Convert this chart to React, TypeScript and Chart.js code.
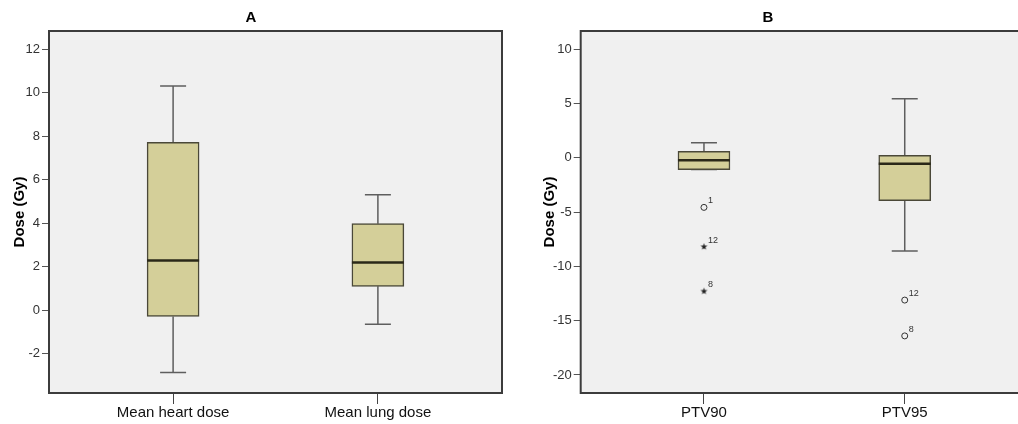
import React, { useEffect, useRef } from "react";
import { Chart, registerables } from "chart.js";

Chart.register(...registerables);

// ---------- Panel A data ----------
const panelATitle = "A";
const panelACategories = ["Mean heart dose", "Mean lung dose"];
const panelAMin = [-2.86, -0.64];
const panelAQ1 = [-0.28, 1.1];
const panelAMedian = [2.29, 2.2];
const panelAQ3 = [7.72, 3.98];
const panelAMax = [10.3, 5.31];
const panelAYTicks = [-2, 0, 2, 4, 6, 8, 10, 12];
const panelACircleOutliers: { x: number; y: number; label: string }[] = [];
const panelAStarOutliers: { x: number; y: number; label: string }[] = [];

// ---------- Panel B data ----------
const panelBTitle = "B";
const panelBCategories = ["PTV90", "PTV95"];
const panelBMin = [-1.08, -8.57];
const panelBQ1 = [-1.08, -3.95];
const panelBMedian = [-0.22, -0.53];
const panelBQ3 = [0.61, 0.24];
const panelBMax = [1.39, 5.45];
const panelBYTicks = [-20, -15, -10, -5, 0, 5, 10];
const panelBCircleOutliers = [
  { x: 0, y: -4.56, label: "1" },
  { x: 1, y: -13.1, label: "12" },
  { x: 1, y: -16.4, label: "8" },
];
const panelBStarOutliers = [
  { x: 0, y: -8.17, label: "12" },
  { x: 0, y: -12.27, label: "8" },
];

const FONT = "'Liberation Sans', Arial, Helvetica, sans-serif";

type Panel = {
  title: string;
  categories: string[];
  min: number[];
  q1: number[];
  median: number[];
  q3: number[];
  max: number[];
  yTicks: number[];
  yMin: number;
  yMax: number;
  xMin: number;
  xMax: number;
  circles: { x: number; y: number; label: string }[];
  stars: { x: number; y: number; label: string }[];
  yAxisWidth: number;
  yTitlePad: number;
  rightPad: number;
};

function makeStarImage(): HTMLCanvasElement {
  const c = document.createElement("canvas");
  c.width = 9;
  c.height = 9;
  const g = c.getContext("2d")!;
  g.fillStyle = "#222";
  g.beginPath();
  const cx = 4.5, cy = 4.7, ro = 3.6, ri = 1.5;
  for (let k = 0; k < 10; k++) {
    const r = k % 2 === 0 ? ro : ri;
    const a = -Math.PI / 2 + (k * Math.PI) / 5;
    const px = cx + r * Math.cos(a);
    const py = cy + r * Math.sin(a);
    if (k === 0) g.moveTo(px, py);
    else g.lineTo(px, py);
  }
  g.closePath();
  g.fill();
  return c;
}

const boxPlugin = {
  id: "boxplotExtras",
  beforeDraw(chart: any) {
    const { ctx, chartArea } = chart;
    ctx.save();
    ctx.fillStyle = "#f0f0f0";
    ctx.fillRect(chartArea.left, chartArea.top, chartArea.right - chartArea.left, chartArea.bottom - chartArea.top);
    ctx.restore();
  },
  beforeDatasetsDraw(chart: any) {
    const p: Panel = chart.options.plugins.boxplotExtras.panel;
    const { ctx } = chart;
    const ys = chart.scales.y;
    const meta = chart.getDatasetMeta(0);
    ctx.save();
    ctx.strokeStyle = "#5e5e5e";
    ctx.lineWidth = 1.5;
    meta.data.forEach((bar: any, i: number) => {
      const cx = bar.x;
      const half = bar.width / 4;
      const yMax = ys.getPixelForValue(p.max[i]);
      const yQ3 = ys.getPixelForValue(p.q3[i]);
      const yQ1 = ys.getPixelForValue(p.q1[i]);
      const yMin = ys.getPixelForValue(p.min[i]);
      ctx.beginPath();
      ctx.moveTo(cx, yQ3);
      ctx.lineTo(cx, yMax);
      ctx.moveTo(cx - half, yMax);
      ctx.lineTo(cx + half, yMax);
      ctx.moveTo(cx, yQ1);
      ctx.lineTo(cx, yMin);
      ctx.moveTo(cx - half, yMin);
      ctx.lineTo(cx + half, yMin);
      ctx.stroke();
    });
    ctx.restore();
  },
  afterDatasetsDraw(chart: any) {
    const p: Panel = chart.options.plugins.boxplotExtras.panel;
    const { ctx, chartArea } = chart;
    const ys = chart.scales.y;
    const xs = chart.scales.x;
    const meta = chart.getDatasetMeta(0);
    ctx.save();
    // medians
    ctx.strokeStyle = "#2a2818";
    ctx.lineWidth = 2.5;
    meta.data.forEach((bar: any, i: number) => {
      const y = ys.getPixelForValue(p.median[i]);
      ctx.beginPath();
      ctx.moveTo(bar.x - bar.width / 2, y);
      ctx.lineTo(bar.x + bar.width / 2, y);
      ctx.stroke();
    });
    // outlier labels
    ctx.fillStyle = "#333";
    ctx.font = `9px ${FONT}`;
    ctx.textAlign = "left";
    ctx.textBaseline = "alphabetic";
    [...p.circles, ...p.stars].forEach((o) => {
      const px = xs.getPixelForValue(o.x);
      const py = ys.getPixelForValue(o.y);
      ctx.fillText(o.label, px + 4, py - 4);
    });
    // frame
    ctx.strokeStyle = "#3c3c3c";
    ctx.lineWidth = 2;
    ctx.strokeRect(chartArea.left, chartArea.top, chartArea.right - chartArea.left, chartArea.bottom - chartArea.top);
    ctx.restore();
  },
};

function makeConfig(p: Panel): any {
  return {
    type: "bar",
    data: {
      datasets: [
        {
          type: "bar",
          data: p.categories.map((_, i) => ({ x: i, y: [p.q1[i], p.q3[i]] })),
          backgroundColor: "#d4cf99",
          borderColor: "#4a4838",
          borderWidth: 1.5,
          borderSkipped: false,
          barThickness: 52,
          order: 2,
        },
        {
          type: "scatter",
          data: p.circles.map((o) => ({ x: o.x, y: o.y })),
          pointStyle: "circle",
          radius: 3,
          borderColor: "#333",
          backgroundColor: "rgba(0,0,0,0)",
          borderWidth: 1,
          order: 1,
        },
        {
          type: "scatter",
          data: p.stars.map((o) => ({ x: o.x, y: o.y })),
          pointStyle: makeStarImage(),
          radius: 4,
          order: 1,
        },
      ],
    },
    options: {
      animation: false,
      responsive: false,
      devicePixelRatio: 1,
      layout: { padding: { left: 0, right: p.rightPad, top: 0, bottom: 0 } },
      plugins: {
        legend: { display: false },
        tooltip: { enabled: false },
        title: {
          display: true,
          text: p.title,
          color: "#000",
          font: { family: FONT, size: 15, weight: "bold" },
          padding: { top: 9, bottom: 4 },
        },
        boxplotExtras: { panel: p },
      },
      scales: {
        x: {
          type: "linear",
          min: p.xMin,
          max: p.xMax,
          offset: false,
          afterBuildTicks: (scale: any) => {
            scale.ticks = p.categories.map((_, i) => ({ value: i }));
          },
          afterFit: (scale: any) => {
            scale.height = 31;
          },
          grid: { drawOnChartArea: false, drawTicks: true, tickLength: 11, color: "#444", offset: false },
          border: { display: false },
          ticks: {
            autoSkip: false,
            maxRotation: 0,
            padding: 0,
            color: "#111",
            font: { family: FONT, size: 15 },
            callback: (v: number) => p.categories[v] ?? "",
          },
        },
        y: {
          type: "linear",
          min: p.yMin,
          max: p.yMax,
          afterBuildTicks: (scale: any) => {
            scale.ticks = p.yTicks.map((v) => ({ value: v }));
          },
          afterFit: (scale: any) => {
            scale.width = p.yAxisWidth;
          },
          grid: { drawOnChartArea: false, drawTicks: true, tickLength: 7, color: "#555" },
          border: { display: false },
          ticks: {
            padding: 2,
            color: "#333",
            font: { family: FONT, size: 13 },
          },
          title: {
            display: true,
            text: "Dose (Gy)",
            color: "#000",
            font: { family: FONT, size: 15, weight: "bold" },
            padding: { top: p.yTitlePad, bottom: 0 },
          },
        },
      },
    },
    plugins: [boxPlugin],
  };
}

const panelA: Panel = {
  title: panelATitle,
  categories: panelACategories,
  min: panelAMin,
  q1: panelAQ1,
  median: panelAMedian,
  q3: panelAQ3,
  max: panelAMax,
  yTicks: panelAYTicks,
  yMin: -3.8,
  yMax: 12.83,
  xMin: -0.606,
  xMax: 1.606,
  circles: panelACircleOutliers,
  stars: panelAStarOutliers,
  yAxisWidth: 49,
  yTitlePad: 11,
  rightPad: 6,
};

const panelB: Panel = {
  title: panelBTitle,
  categories: panelBCategories,
  min: panelBMin,
  q1: panelBQ1,
  median: panelBMedian,
  q3: panelBQ3,
  max: panelBMax,
  yTicks: panelBYTicks,
  yMin: -21.66,
  yMax: 11.69,
  xMin: -0.614,
  xMax: 1.614,
  circles: panelBCircleOutliers,
  stars: panelBStarOutliers,
  yAxisWidth: 72.7,
  yTitlePad: 32.7,
  rightPad: 26,
};

function BoxChart({ panel, width, left }: { panel: Panel; width: number; left: number }) {
  const ref = useRef<HTMLCanvasElement | null>(null);
  useEffect(() => {
    if (!ref.current) return;
    const chart = new Chart(ref.current, makeConfig(panel));
    return () => chart.destroy();
  }, [panel]);
  return (
    <canvas
      ref={ref}
      width={width}
      height={424}
      style={{ position: "absolute", left, top: 0, width, height: 424 }}
    />
  );
}

export default function App() {
  return (
    <div
      style={{
        position: "fixed",
        left: 0,
        top: 0,
        width: 1018,
        height: 424,
        overflow: "hidden",
        background: "#fff",
      }}
    >
      <BoxChart panel={panelA} width={508} left={0} />
      <BoxChart panel={panelB} width={546} left={508} />
    </div>
  );
}
